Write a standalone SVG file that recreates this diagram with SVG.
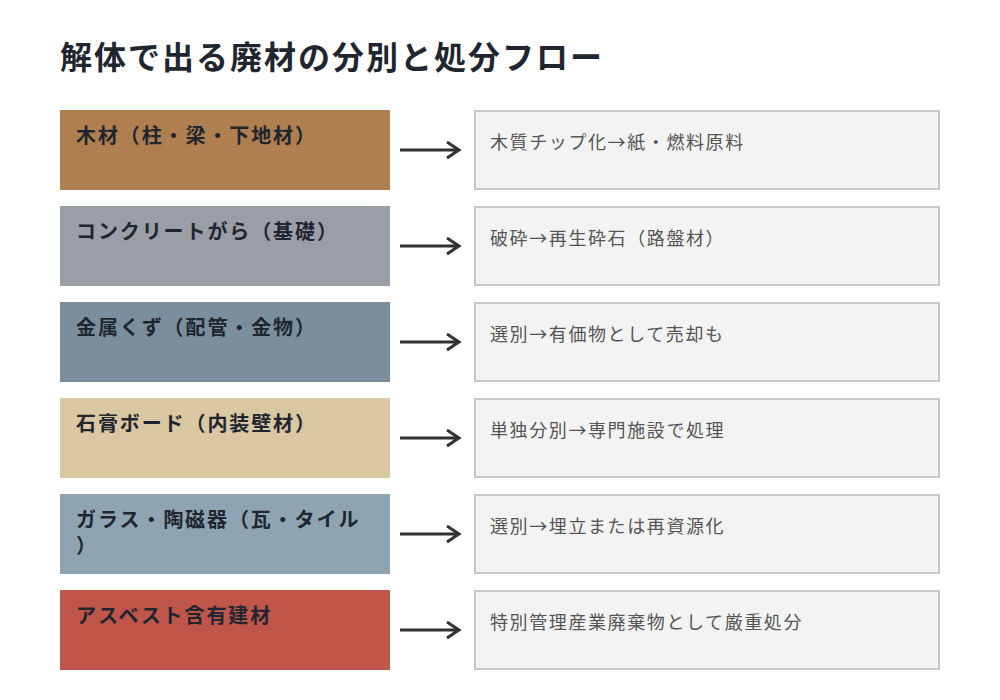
<svg xmlns="http://www.w3.org/2000/svg" width="1000" height="700" viewBox="0 0 1000 700">
<style>
.title{font-family:"Noto Sans CJK JP","Noto Sans",sans-serif;font-size:32px;font-weight:700;fill:#1f2630;letter-spacing:2px}
.lt{font-family:"Noto Sans CJK JP","Noto Sans",sans-serif;font-size:20px;font-weight:700;fill:#1f2630;letter-spacing:1.9px}
.rt{font-family:"Noto Sans CJK JP","Noto Sans",sans-serif;font-size:18px;font-weight:400;fill:#555555;letter-spacing:1.6px}
.rbox{fill:#f3f3f3;stroke:#c8c8c8;stroke-width:2}
.arr{stroke:#333333;stroke-width:3;fill:none;stroke-linecap:butt}
</style>
<rect width="1000" height="700" fill="#ffffff"/>
<text class="title" x="60" y="69">解体で出る廃材の分別と処分フロー</text>

<g id="src-wood"><rect x="60" y="110" width="330" height="80" fill="#b07f50"/><text class="lt" x="76" y="143">木材（柱・梁・下地材）</text></g>
<g id="src-concrete"><rect x="60" y="206" width="330" height="80" fill="#9a9ea6"/><text class="lt" x="76" y="239">コンクリートがら（基礎）</text></g>
<g id="src-metal"><rect x="60" y="302" width="330" height="80" fill="#7b8e9d"/><text class="lt" x="76" y="335">金属くず（配管・金物）</text></g>
<g id="src-gypsum"><rect x="60" y="398" width="330" height="80" fill="#d9c8a2"/><text class="lt" x="76" y="431">石膏ボード（内装壁材）</text></g>
<g id="src-glass"><rect x="60" y="494" width="330" height="80" fill="#8ea4b1"/><text class="lt" x="76" y="527">ガラス・陶磁器（瓦・タイル</text><text class="lt" x="76" y="553">）</text></g>
<g id="src-asbestos"><rect x="60" y="590" width="330" height="80" fill="#c0564a"/><text class="lt" x="76" y="623">アスベスト含有建材</text></g>

<g id="dst-wood"><rect class="rbox" x="475" y="111" width="464" height="78"/><text class="rt" x="490" y="149">木質チップ化→紙・燃料原料</text></g>
<g id="dst-concrete"><rect class="rbox" x="475" y="207" width="464" height="78"/><text class="rt" x="490" y="245">破砕→再生砕石（路盤材）</text></g>
<g id="dst-metal"><rect class="rbox" x="475" y="303" width="464" height="78"/><text class="rt" x="490" y="341">選別→有価物として売却も</text></g>
<g id="dst-gypsum"><rect class="rbox" x="475" y="399" width="464" height="78"/><text class="rt" x="490" y="437">単独分別→専門施設で処理</text></g>
<g id="dst-glass"><rect class="rbox" x="475" y="495" width="464" height="78"/><text class="rt" x="490" y="533">選別→埋立または再資源化</text></g>
<g id="dst-asbestos"><rect class="rbox" x="475" y="591" width="464" height="78"/><text class="rt" x="490" y="629">特別管理産業廃棄物として厳重処分</text></g>

<g id="connectors">
<path class="arr" d="M400 150H459M447 142L459 150L447 158"/>
<path class="arr" d="M400 246H459M447 238L459 246L447 254"/>
<path class="arr" d="M400 342H459M447 334L459 342L447 350"/>
<path class="arr" d="M400 438H459M447 430L459 438L447 446"/>
<path class="arr" d="M400 534H459M447 526L459 534L447 542"/>
<path class="arr" d="M400 630H459M447 622L459 630L447 638"/>
</g>
</svg>
